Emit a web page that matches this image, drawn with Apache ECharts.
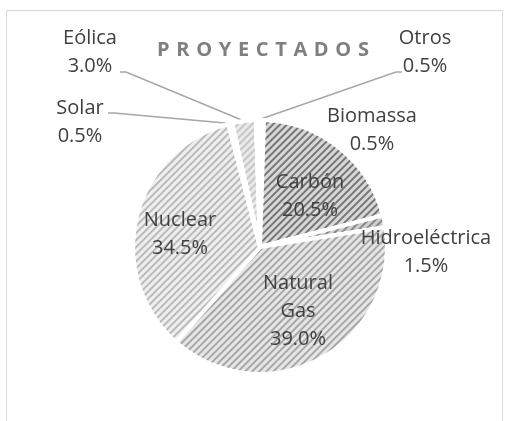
<!DOCTYPE html>
<html>
<head>
<meta charset="utf-8">
<script src="https://cdn.jsdelivr.net/npm/echarts@6/dist/echarts.min.js"></script>
<style>
html,body{margin:0;padding:0;background:#fff;}
#chart{width:508px;height:421px;}
</style>
</head>
<body>
<div id="chart"></div>
<script>
// Data
const categories = ['Biomassa', 'Carbón', 'Hidroeléctrica', 'Natural\nGas', 'Nuclear', 'Solar', 'Eólica', 'Otros'];
const values = [0.5, 20.5, 1.5, 39.0, 34.5, 0.5, 3.0, 0.5];
const titleText = 'PROYECTADOS';

// styles per slice (background, stripe colour)
const sliceBg =     ['#d6d6d6', '#d8d8d8', '#d0d0d0', '#e6e6e6', '#efefef', '#e6e6e6', '#e9e9e9', '#e6e6e6'];
const sliceStripe = ['#808080', '#777777', '#8a8a8a', '#a8a8a8', '#bababa', '#c4c4c4', '#c6c6c6', '#c4c4c4'];
// label placement (text centre) per slice
const labelPos = [[372,130],[310,196],[426,252],[298,311],[180,234],[80,122],[90,52],[425,52]];
const labelAnchor = [null,null,null,null,null,[114,113],[126,72],[396,72]];

const chart = echarts.init(document.getElementById('chart'), null, {renderer:'canvas'});
const font = '"Open Sans", sans-serif';

const data = categories.map((c, i) => ({
  name: c,
  value: values[i],
  itemStyle: {
    color: sliceBg[i],
    decal: {
      symbol: 'rect',
      dashArrayX: [1, 0],
      dashArrayY: [2, 3],
      rotation: -Math.PI / 4,
      color: sliceStripe[i]
    }
  },
  labelLine: { show: labelAnchor[i] !== null }
}));

const spacedTitle = titleText.split('').join('\u2004');

chart.setOption({
  animation: false,
  backgroundColor: '#fff',
  graphic: [{
    type: 'rect',
    shape: { x: 6.5, y: 10.5, width: 496, height: 430 },
    style: { fill: null, stroke: '#d9d9d9', lineWidth: 1 },
    silent: true
  }],
  title: {
    text: spacedTitle,
    left: 258,
    textAlign: 'center',
    top: 35,
    textStyle: { fontFamily: font, fontSize: 20, fontWeight: 'bold', color: '#7f7f7f' }
  },
  series: [{
    type: 'pie',
    center: [260, 247],
    radius: [0, 127],
    startAngle: 90,
    clockwise: true,
    avoidLabelOverlap: false,
    itemStyle: { borderColor: '#ffffff', borderWidth: 4 },
    label: {
      show: true,
      position: 'outside',
      formatter: p => p.name + '\n' + p.value.toFixed(1) + '%',
      fontFamily: font,
      fontSize: 20,
      lineHeight: 28,
      color: '#404040',
      align: 'center'
    },
    labelLine: { show: true, length: 10, length2: 10, lineStyle: { color: '#a6a6a6', width: 1.5 } },
    labelLayout: function (p) {
      const i = p.dataIndex;
      const pos = labelPos[i];
      const res = { x: pos[0], y: pos[1], align: 'center', verticalAlign: 'middle' };
      if (labelAnchor[i] && p.labelLinePoints) {
        const start = p.labelLinePoints[0];
        res.labelLinePoints = [start, labelAnchor[i], [labelAnchor[i][0] + (labelAnchor[i][0] < 260 ? -6 : 6), labelAnchor[i][1]]];
      }
      return res;
    },
    data: data
  }]
});
</script>
</body>
</html>
